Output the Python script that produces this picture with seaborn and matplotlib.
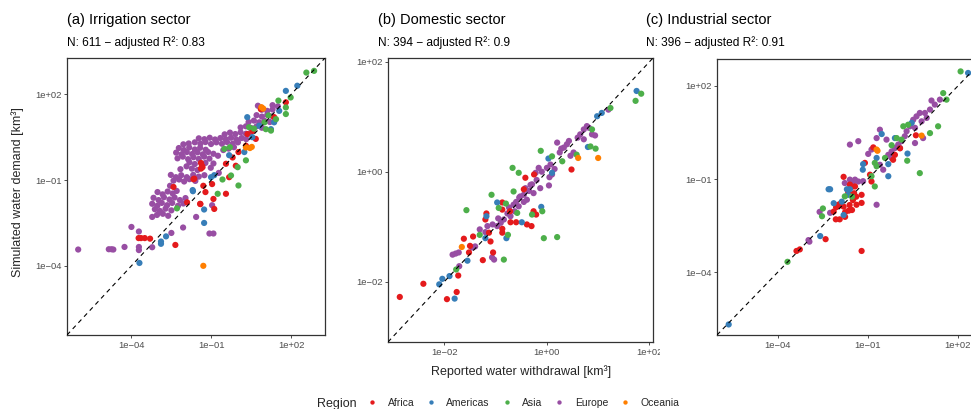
import numpy as np
import pandas as pd
import matplotlib.pyplot as plt
import seaborn as sns
from matplotlib.ticker import FixedLocator, FuncFormatter, NullLocator
from matplotlib.transforms import Bbox

# Regions and colours (ColorBrewer Set1)
REGIONS = ["Africa", "Americas", "Asia", "Europe", "Oceania"]
PALETTE = ["#E41A1C", "#377EB8", "#4DAF4A", "#984EA3", "#FF7F00"]
DRAW_ORDER = ["Europe", "Africa", "Americas", "Asia", "Oceania"]

# Points as (log10 reported withdrawal, log10 simulated demand)

# (a) Irrigation
IRR_EUROPE = [
    (-6.0, -3.43), (-4.85, -3.42), (-4.75, -3.42), (-4.68, -3.43), (-4.26, -3.34), (-4.0, -2.64),
    (-3.72, -2.8), (-3.72, -3.34), (-3.72, -3.45), (-3.22, -3.35), (-3.22, -2.29), (-2.5, -2.85),
    (-2.06, -2.66), (-1.57, -2.29), (-1.07, -2.87), (-0.92, -2.87), (-0.97, -1.88), (-2.55, -1.2),
    (-3.02, -1.42), (-2.83, -1.5), (-2.64, -1.4), (-2.45, -1.47), (-2.3, -1.38),
    (-3.17, -1.62), (-2.98, -1.7), (-2.78, -1.6), (-2.57, -1.68), (-2.38, -1.61), (-2.18, -1.7), (-1.97, -1.63),
    (-3.22, -1.83), (-3.03, -1.9), (-2.86, -1.8), (-2.66, -1.88), (-2.47, -1.8), (-2.25, -1.9), (-2.05, -1.82),
    (-3.12, -2.02), (-2.93, -2.08), (-2.72, -2.0), (-2.5, -2.06), (-3.04, -2.22), (-2.82, -2.18), (-2.62, -2.25),
    (-2.52, -0.82), (-2.33, -0.9), (-2.13, -0.83), (-1.92, -0.9), (-1.68, -0.82), (-1.47, -0.88), (-1.26, -0.83),
    (-2.42, -1.02), (-2.21, -0.98), (-2.02, -1.05), (-1.82, -0.97), (-1.6, -1.03),
    (-2.16, -0.62), (-1.52, -0.65), (-1.93, -0.52), (-1.73, -0.6), (-1.02, -0.57), (-0.72, -0.75),
    (-2.22, 0.12), (-2.03, 0.05), (-1.83, 0.14), (-1.62, 0.07), (-1.42, 0.13), (-1.21, 0.06),
    (-2.05, 0.25), (-1.85, 0.28),
    (-2.32, -0.04), (-2.12, -0.1), (-1.92, -0.02), (-1.72, -0.09), (-1.52, -0.03), (-1.32, -0.1),
    (-1.12, -0.02), (-0.92, -0.08),
    (-2.27, -0.24), (-2.07, -0.18), (-1.87, -0.27), (-1.67, -0.2), (-1.47, -0.26), (-1.27, -0.18), (-1.07, -0.25),
    (-1.82, -0.38), (-1.62, -0.44), (-1.22, -0.4), (-0.92, -0.42),
    (-0.75, -0.15), (-0.55, 0.05), (-0.35, 0.1), (-0.15, 0.15),
    (-1.62, 0.32), (-1.41, 0.27), (-1.22, 0.33), (-1.01, 0.26), (-0.81, 0.32), (-0.6, 0.27), (-0.41, 0.33),
    (-0.2, 0.27), (0.0, 0.32),
    (-1.47, 0.46), (-1.26, 0.43), (-1.06, 0.48), (-0.86, 0.42), (-0.66, 0.47), (-0.46, 0.43), (-0.26, 0.48),
    (-0.06, 0.42), (0.14, 0.47), (0.31, 0.43),
    (-0.5, 0.6), (-0.3, 0.66), (-0.1, 0.61), (0.1, 0.67), (0.3, 0.62), (0.5, 0.68),
    (0.1, 0.84), (0.3, 0.88), (0.5, 0.82), (0.7, 0.88), (0.9, 0.83),
    (0.4, 1.03), (0.6, 1.08), (0.8, 1.02), (1.0, 1.07), (1.2, 1.03),
    (0.7, 1.27), (0.9, 1.22), (1.1, 1.28), (1.3, 1.23),
    (0.9, 1.46), (1.1, 1.42), (1.3, 1.47), (0.75, 1.6), (1.3, 1.62), (1.5, 1.58),
]
IRR_AFRICA = [
    (-3.73, -3.03), (-3.64, -3.03), (-3.5, -3.03), (-3.3, -3.05), (-2.35, -3.27),
    (-1.35, -0.5), (-1.39, -0.4), (-1.39, -0.6), (-1.3, -1.2), (-2.42, -1.24), (-1.41, -1.84),
    (-1.91, -1.78), (-0.97, -1.14), (-1.22, -1.42), (-0.92, -1.66), (-1.67, -0.97), (-0.89, -2.01),
    (-0.45, -1.48), (-0.33, -0.9), (-0.45, -0.43), (-1.33, -0.55), (0.02, -0.02), (-0.08, -0.5),
    (-0.2, -0.21), (0.3, 0.2), (0.36, 0.61), (0.67, 0.44), (0.55, 0.72), (0.86, 1.48), (0.9, 1.52),
    (1.36, 1.2), (1.8, 1.72), (-1.42, -1.83), (-1.64, -0.95),
]
IRR_AMERICAS = [
    (-3.7, -3.9), (-2.89, -3.15), (-2.89, -3.23), (-2.7, -2.97), (-1.69, -1.39), (-1.27, -2.03),
    (-1.27, -2.5), (-1.01, -0.9), (-0.89, -0.83), (-1.7, -1.35), (-0.33, -0.13), (0.24, -0.02),
    (0.54, 0.5), (0.35, 1.2), (0.8, 0.9), (1.24, 0.78), (1.36, 1.02), (1.55, 1.42), (1.8, 2.12),
    (2.23, 2.3),
]
IRR_ASIA = [
    (-2.29, -1.99), (-0.76, -1.48), (-0.58, -0.98), (-0.26, -0.84), (0.02, -1.19), (-0.01, -0.55),
    (0.3, -0.31), (-0.51, 0.09), (-0.3, 0.15), (0.42, 0.85), (0.6, 0.8), (1.24, 0.73), (1.0, 1.02),
    (1.15, 1.26), (1.05, 0.78), (1.43, 1.13), (1.52, 1.78), (1.8, 1.54), (1.8, 1.31), (1.98, 1.89),
    (2.57, 2.76), (2.86, 2.82),
]
IRR_OCEANIA = [
    (-1.3, -4.0), (0.3, 0.14), (0.45, 0.12), (0.52, 0.16), (0.88, 1.55), (0.95, 1.5),
]

# (b) Domestic
DOM_EUROPE = [
    (-1.84, -1.51), (-1.78, -1.49), (-1.72, -1.47), (-1.71, -1.72), (-1.46, -1.38), (-1.4, -1.36),
    (-1.31, -1.05), (-1.2, -1.1), (-1.07, -1.56), (-1.03, -1.6), (-1.16, -0.99), (-1.06, -0.96),
    (-0.97, -0.99), (-0.9, -0.93), (-0.84, -0.87), (-0.77, -0.76), (-0.71, -0.81), (-0.63, -0.72),
    (-0.55, -0.63), (-0.52, -0.45), (-0.45, -0.42), (-0.39, -0.51), (-0.32, -0.24), (-0.26, -0.39),
    (-0.74, -0.65), (-0.54, -0.47), (-0.35, -0.35), (-0.29, -0.23), (-0.22, -0.02), (-0.16, 0.07),
    (-0.13, -0.3), (-0.2, -0.15), (-0.6, -0.55), (-0.42, -0.3), (0.04, -0.25), (0.0, 0.07),
    (0.07, 0.13), (0.1, -0.05), (0.15, 0.05), (0.2, 0.53), (0.25, 0.35), (0.33, 0.44), (0.39, 0.5),
    (0.43, 0.56), (0.46, 0.29), (0.52, 0.35), (0.65, 0.68), (0.72, 0.77), (0.78, 0.83), (0.88, 0.68),
    (0.72, 0.59), (0.94, 0.66), (1.2, 1.13), (-0.45, -0.55), (-0.65, -0.6), (-0.1, 0.0),
    (0.05, -0.1), (0.28, 0.42), (0.6, 0.62), (0.82, 0.8), (-0.95, -0.85),
]
DOM_AFRICA = [
    (-2.87, -2.28), (-2.41, -2.04), (-1.95, -2.32), (-1.76, -2.19), (-1.73, -1.89), (-1.62, -1.22),
    (-1.52, -1.47), (-1.5, -1.35), (-1.44, -1.18), (-1.25, -1.61), (-1.18, -0.76), (-1.2, -0.87),
    (-1.13, -1.11), (-1.1, -1.27), (-1.05, -1.47), (-0.87, -0.56), (-0.87, -1.04), (-0.87, -1.11),
    (-0.71, -0.92), (-0.6, -0.92), (-0.39, -0.96), (-0.3, -0.99), (-0.26, -0.72), (-0.72, -0.72),
    (-0.42, -0.11), (-0.25, -0.05), (-0.45, -0.32), (-0.87, -0.69), (-0.21, -0.78), (0.48, 0.04),
]
DOM_AMERICAS = [
    (-2.1, -2.05), (-2.04, -1.95), (-1.9, -1.9), (-1.8, -2.31), (-1.55, -1.62), (-1.2, -1.21),
    (-1.18, -0.81), (-0.97, -0.56), (-0.79, -1.21), (-0.49, -0.92), (-0.11, -0.64), (0.03, 0.24),
    (0.1, -0.02), (0.8, 0.45), (0.98, 1.01), (1.07, 1.07), (1.75, 1.47),
]
DOM_ASIA = [
    (-1.57, -0.7), (-1.77, -1.78), (-1.08, -0.42), (-1.31, -1.15), (-0.84, -1.6), (-0.76, -1.15),
    (-0.94, -0.66), (-0.58, -0.75), (-0.65, -0.36), (-0.55, -0.02), (-0.67, 0.07), (-0.8, -0.58),
    (-0.29, -0.78), (-0.09, -0.72), (-0.06, -1.21), (0.2, -1.19), (-0.12, 0.38), (0.1, 0.28),
    (0.3, 0.19), (0.58, 0.31), (0.95, 0.42), (0.85, 0.46), (0.88, 0.77), (1.24, 1.16), (1.73, 1.29),
    (1.84, 1.42),
]
DOM_OCEANIA = [(-1.66, -1.37), (0.61, 0.25), (1.0, 0.25)]

# (c) Industrial
IND_EUROPE = [
    (-2.98, -2.97), (-2.95, -3.02), (-2.61, -2.06), (-2.26, -2.09), (-1.5, -1.11), (-0.71, -1.83),
    (-1.43, -1.02), (-1.32, -1.08), (-1.16, -1.07), (-1.77, -1.13), (-1.6, -1.02),
    (-1.32, 0.22), (-1.6, 0.11), (-0.99, -0.19), (-0.88, -0.05), (-0.6, 0.59), (-0.71, 0.32),
    (-0.38, 0.27), (-0.6, -0.54), (-0.49, -0.7), (-0.32, -0.22), (-0.21, -0.11), (-0.21, -0.32),
    (-0.1, 0.0), (0.01, 0.11), (0.07, 0.0), (0.12, 0.22), (0.23, 0.38), (0.29, 0.54), (0.4, 0.7),
    (0.57, 0.65), (0.57, 0.16), (0.84, 0.32), (0.51, 0.91), (0.62, 1.02), (0.73, 1.13), (0.9, 1.13),
    (0.96, 0.97), (0.79, 0.86), (1.07, 1.24), (1.12, 1.53), (1.23, 1.4), (1.4, 1.56),
]
IND_AFRICA = [
    (-3.38, -3.32), (-3.27, -3.27), (-2.41, -2.94), (-1.81, -0.93), (-1.21, -3.32),
    (-2.14, -2.05), (-2.06, -1.91), (-1.98, -1.87), (-1.9, -1.78), (-1.81, -1.89), (-1.76, -2.07),
    (-1.64, -2.02), (-1.53, -2.0), (-2.07, -2.3), (-1.94, -2.3), (-1.76, -2.22), (-1.61, -1.84),
    (-1.53, -1.25), (-1.46, -1.46), (-1.5, -1.68), (-1.64, -1.46), (-1.39, -1.57), (-1.99, -1.83),
    (-1.6, -1.18), (-1.43, -1.24), (-1.66, -1.4), (-1.49, -1.51), (-1.21, -1.51), (-1.21, -1.77),
    (-1.38, -1.83), (-1.1, -0.48), (-0.93, -0.86), (-0.88, -1.08), (-0.82, 0.02), (-0.16, -0.38),
    (-0.1, -0.22), (0.07, -0.01), (0.6, 0.41),
]
IND_AMERICAS = [
    (-5.64, -5.69), (-2.59, -2.84), (-2.31, -1.33), (-2.26, -1.33), (-2.14, -1.78), (-1.81, -2.16),
    (-1.7, -1.33), (-1.6, -1.33), (-1.87, -1.73), (-1.66, -1.51), (-1.16, -0.52), (-1.17, -0.7),
    (-0.71, -0.32), (-0.32, -0.52), (-0.32, -0.91), (-0.54, 0.45), (-0.1, 0.32), (0.32, -0.18),
    (0.46, 0.81), (2.34, 2.42),
]
IND_ASIA = [
    (-3.68, -3.67), (-2.5, -1.95), (-2.53, -2.2), (-1.53, -1.57), (-1.77, -1.56), (-0.88, -0.91),
    (-0.77, -1.24), (-0.77, -0.48), (-0.71, -0.59), (-0.43, -0.32), (-0.21, 0.09), (-0.04, 0.32),
    (0.12, 0.27), (0.31, -0.41), (0.73, -0.81), (0.18, 0.7), (0.34, 0.75), (1.07, 0.48), (1.34, 0.7),
    (1.51, 1.77), (1.62, 1.56), (2.09, 2.47),
]
IND_OCEANIA = [(-0.71, -0.05), (-0.68, -0.09), (0.79, 0.4)]

TITLES = ["(a) Irrigation sector", "(b) Domestic sector", "(c) Industrial sector"]
SUBTITLES = ["N: 611 \u2212 adjusted R\u00b2: 0.83",
             "N: 394 \u2212 adjusted R\u00b2: 0.9",
             "N: 396 \u2212 adjusted R\u00b2: 0.91"]
LOG_LIMITS = [(-6.42, 3.27), (-3.1, 2.07), (-6.03, 2.87)]
LOG_TICKS = [[-4, -1, 2], [-2, 0, 2], [-4, -1, 2]]


def make_frame(groups):
    frames = []
    for region in DRAW_ORDER:
        pts = np.array(groups[region], dtype=float)
        frames.append(pd.DataFrame({"reported": 10 ** pts[:, 0],
                                    "simulated": 10 ** pts[:, 1],
                                    "Region": region}))
    return pd.concat(frames, ignore_index=True)


df_irr = make_frame({"Africa": IRR_AFRICA, "Americas": IRR_AMERICAS, "Asia": IRR_ASIA,
                     "Europe": IRR_EUROPE, "Oceania": IRR_OCEANIA})
df_dom = make_frame({"Africa": DOM_AFRICA, "Americas": DOM_AMERICAS, "Asia": DOM_ASIA,
                     "Europe": DOM_EUROPE, "Oceania": DOM_OCEANIA})
df_ind = make_frame({"Africa": IND_AFRICA, "Americas": IND_AMERICAS, "Asia": IND_ASIA,
                     "Europe": IND_EUROPE, "Oceania": IND_OCEANIA})

sns.set_theme(style="white")
plt.rcParams["font.family"] = ["Liberation Sans", "DejaVu Sans"]

W, H = 971, 409
figure = plt.figure(figsize=(W / 100, H / 100), dpi=100)


def px_rect(left, top, right, bottom):
    return [left / W, 1 - bottom / H, (right - left) / W, (bottom - top) / H]


def sci_label(v, pos):
    return f"{v:.0e}".replace("-", "\u2212")


rects = [px_rect(67, 58, 325, 335), px_rect(388, 58, 653, 342), px_rect(717, 59, 984, 335)]
title_x = [67, 378, 646]
axes = []
for i, (df, rect) in enumerate(zip([df_irr, df_dom, df_ind], rects)):
    ax = figure.add_axes(rect)
    sns.scatterplot(data=df, x="reported", y="simulated", hue="Region", hue_order=REGIONS,
                    palette=PALETTE, s=20, linewidth=0, alpha=1, ax=ax, legend=(i == 0))
    ax.set_xscale("log")
    ax.set_yscale("log")
    lo, hi = LOG_LIMITS[i]
    ax.set_xlim(10 ** lo, 10 ** hi)
    ax.set_ylim(10 ** lo, 10 ** hi)
    ax.axline((1, 1), (10, 10), color="black", lw=0.8, ls=(0, (4, 3.5)), zorder=5)
    ticks = [10.0 ** t for t in LOG_TICKS[i]]
    for axis in (ax.xaxis, ax.yaxis):
        axis.set_major_locator(FixedLocator(ticks))
        axis.set_minor_locator(NullLocator())
        axis.set_major_formatter(FuncFormatter(sci_label))
    ax.tick_params(axis="both", which="major", direction="out", length=2.5, width=0.6,
                   color="#333333", labelsize=6.8, labelcolor="#4D4D4D", pad=1.5,
                   bottom=True, left=True)
    for side in ["top", "bottom", "left", "right"]:
        ax.spines[side].set_visible(True)
        ax.spines[side].set_color("#333333")
        ax.spines[side].set_linewidth(0.9)
    ax.set_xlabel("")
    ax.set_ylabel("")
    figure.text(title_x[i] / W, 1 - 24 / H, TITLES[i], fontsize=10.5, color="black",
                ha="left", va="baseline")
    figure.text(title_x[i] / W, 1 - 46 / H, SUBTITLES[i], fontsize=8.6, color="black",
                ha="left", va="baseline")
    axes.append(ax)

# the right tick label of panel (b) is cut by the neighbouring panel
clip = Bbox.from_extents(0, 0, 660, H)
for label in axes[1].get_xticklabels():
    label.set_clip_box(clip)
    label.set_clip_on(True)

figure.text(18 / W, 1 - 192 / H, "Simulated water demand [km\u00b3]", rotation=90,
            fontsize=9, ha="center", va="center")
figure.text(521 / W, 1 - 375 / H, "Reported water withdrawal [km\u00b3]",
            fontsize=9, ha="center", va="baseline")

handles, labels = axes[0].get_legend_handles_labels()
axes[0].get_legend().remove()
figure.text(317 / W, 1 - 407 / H, "Region", fontsize=9, ha="left", va="baseline")
figure.legend(handles, labels, ncol=5, loc="center", bbox_to_anchor=(523 / W, 1 - 403 / H),
              frameon=False, fontsize=7.5, handlelength=1.0, handletextpad=1.0,
              columnspacing=1.1, markerscale=0.7, borderpad=0, borderaxespad=0)

figure.savefig("out.png", dpi=100)
